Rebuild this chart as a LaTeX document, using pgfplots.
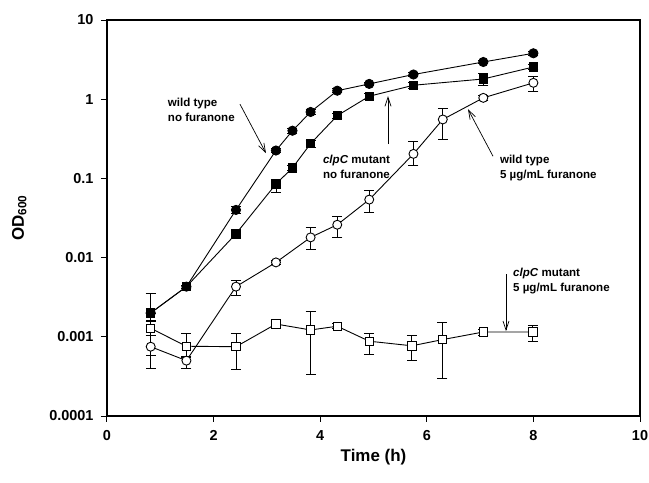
\documentclass[border=0pt]{standalone}
\usepackage{fontspec}
\setmainfont{Liberation Sans}
\usepackage{pgfplots}
\pgfplotsset{compat=1.18}
\usepackage{pgfplotstable}
\usetikzlibrary{arrows.meta}

% x  y  ep (plus)  em (minus)
\pgfplotstableread{
x    y       ep      em
0.82 0.0020  0       0
1.49 0.0043  0.0002  0.0002
2.42 0.040   0.004   0.004
3.17 0.225   0.015   0.015
3.48 0.40    0.03    0.03
3.82 0.69    0.05    0.05
4.32 1.28    0.08    0.08
4.92 1.56    0.08    0.08
5.75 2.05    0.10    0.10
7.06 2.95    0.15    0.15
8.00 3.80    0.20    0.20
}\wtno
\pgfplotstableread{
x    y       ep      em
0.82 0.0020  0.0015  0.0004
1.49 0.0043  0.0002  0.0002
2.42 0.020   0.002   0.002
3.17 0.085   0.012   0.019
3.48 0.136   0.010   0.010
3.82 0.275   0.030   0.030
4.32 0.62    0.05    0.05
4.92 1.09    0.10    0.10
5.75 1.50    0.12    0.12
7.06 1.80    0.30    0.30
8.00 2.55    0.20    0.20
}\mutno
\pgfplotstableread{
x    y        ep       em
0.82 0.00075  0.0003   0.00035
1.49 0.00050  0.00005  0.0001
2.42 0.0043   0.0009   0.001
3.17 0.0087   0.0004   0.0004
3.82 0.018    0.0057   0.0053
4.32 0.026    0.007    0.008
4.92 0.054    0.016    0.017
5.75 0.204    0.09     0.06
6.30 0.555    0.20     0.245
7.06 1.04     0.08     0.08
8.00 1.61     0.30     0.35
}\wtfur
\pgfplotstableread{
x    y        ep       em
0.82 0.00128  0.0003   0.0007
1.49 0.00076  0.00034  0.0002
2.42 0.00075  0.00035  0.00036
3.17 0.00145  0.0001   0.0001
3.82 0.00122  0.0009   0.00089
4.32 0.00136  0.0001   0.0001
4.92 0.00088  0.00022  0.00028
5.72 0.00077  0.00027  0.00026
6.29 0.00092  0.00058  0.00062
7.06 0.00115  0.0001   0.0001
7.99 0.00115  0.00025  0.00027
}\mutfur

\begin{document}
\begin{tikzpicture}
\begin{axis}[
    name=ax,
    scale only axis,
    width=533bp, height=396bp,
    ymode=log,
    xmin=0, xmax=10,
    ymin=1e-4, ymax=10,
    xtick={0,2,4,6,8,10},
    ytick={1e-4,1e-3,1e-2,1e-1,1,10},
    yticklabels={0.0001,0.001,0.01,0.1,1,10},
    yminorticks=false,
    tick align=outside,
    tick pos=left,
    major tick length=6bp,
    axis line style={line width=1.1bp},
    every tick/.style={line width=1bp, black},
    /pgf/number format/assume math mode=true,
    tick label style={font=\fontsize{14.5}{16}\selectfont\bfseries},
    xticklabel style={yshift=-5bp},
    yticklabel style={xshift=-4bp},
    xlabel={Time (h)},
    ylabel={OD\textsubscript{600}},
    label style={font=\fontsize{17}{19}\selectfont\bfseries},
    xlabel shift=2bp,
    ylabel shift=16bp,
    clip=false,
    error bars/y dir=both,
    error bars/y explicit,
    error bars/error bar style={line width=0.9bp, black},
    error bars/error mark options={rotate=90, mark size=5bp, line width=0.9bp},
]

\addplot[black, line width=0.9bp, mark=square*, mark size=4.2bp, mark options={fill=black}]
  table[x=x, y=y, y error plus=ep, y error minus=em] {\mutno};
\addplot[black, line width=0.9bp, mark=*, mark size=4.6bp, mark options={fill=black}]
  table[x=x, y=y, y error plus=ep, y error minus=em] {\wtno};
\addplot[black, line width=0.9bp, mark=square*, mark size=4.2bp, mark options={fill=white, draw=black}]
  table[x=x, y=y, y error plus=ep, y error minus=em] {\mutfur};
\addplot[black, line width=0.9bp, mark=*, mark size=4.5bp, mark options={fill=white, draw=black}]
  table[x=x, y=y, y error plus=ep, y error minus=em] {\wtfur};

% annotations
\tikzset{note/.style={anchor=west, align=left, inner sep=0pt,
    font=\fontsize{11.6}{15}\selectfont\bfseries},
  pointer/.style={line width=0.7bp, -{Straight Barb[length=9bp, width=6bp]}}}
\node[note] at (axis cs:1.14,0.726) {wild type\\no furanone};
\draw[pointer] (axis cs:2.495,0.865) -- (axis cs:2.983,0.208);
\node[note] at (axis cs:4.05,0.1406) {\textit{clpC} mutant\\no furanone};
\draw[pointer] (axis cs:5.272,0.270) -- (axis cs:5.272,1.09);
\node[note] at (axis cs:7.37,0.1365) {wild type\\5 µg/mL furanone};
\draw[pointer] (axis cs:7.242,0.1906) -- (axis cs:6.773,0.748);
\node[note] at (axis cs:7.617,0.00504) {\textit{clpC} mutant\\5 µg/mL furanone};
\draw[pointer] (axis cs:7.486,0.00617) -- (axis cs:7.486,0.00118);
\end{axis}
\pgfresetboundingbox
\path ([xshift=-107bp,yshift=-67bp]ax.south west) rectangle ([xshift=9bp,yshift=20bp]ax.north east);
\end{tikzpicture}
\end{document}
